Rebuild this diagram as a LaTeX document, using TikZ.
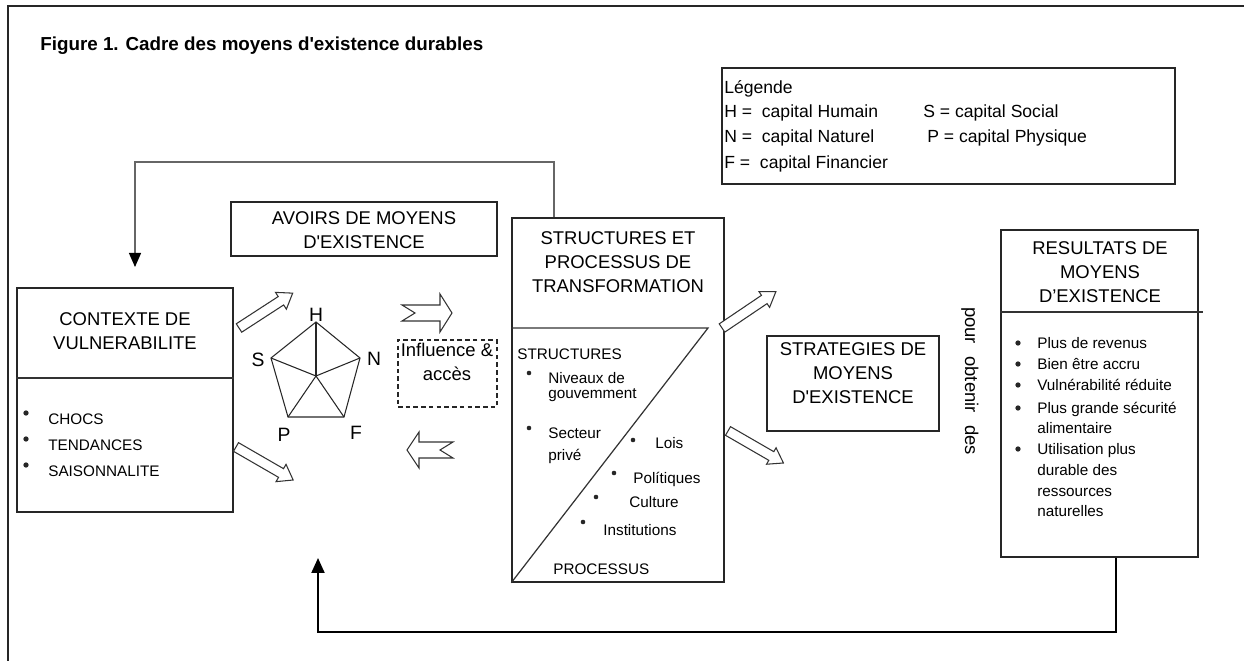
\documentclass[tikz,border=0pt]{standalone}
\usepackage{fontspec}
\setmainfont{Liberation Sans}
\usetikzlibrary{arrows.meta,fit}

\tikzset{
  box/.style={draw=black!85,line width=0.8pt,inner sep=0pt},
  rule/.style={draw=black!80,line width=0.7pt},
  heading/.style={font=\fontsize{10.5}{13.8}\selectfont,align=center},
  item/.style={font=\fontsize{8.7}{10}\selectfont,anchor=west,text height=6.2pt,text depth=0pt},
  legtext/.style={font=\fontsize{10}{12}\selectfont,anchor=west,text height=7.2pt,text depth=0pt},
  dot/.style={circle,fill=black!85,minimum size=3pt},
  hollow/.style={draw=black!80,line width=0.6pt,fill=white,line join=miter},
  capital/.style={font=\fontsize{11}{13}\selectfont}
}

\begin{document}
\begin{tikzpicture}[x=0.02cm,y=-0.02cm,every node/.style={inner sep=0pt}]
  \useasboundingbox (0,0) rectangle (1244,661);
  % frame and title
  \draw[line width=0.8pt,black!85] (8,661) -- (8,6) -- (1244,6);
  \node[font=\fontsize{10.7}{13}\selectfont\bfseries,anchor=west] (title) at (40,46)
    {Figure 1. Cadre des moyens d\textquotesingle existence durables};

  % legend
  \node[box,fit={(722,68) (1175,184)}] (leg) {};
  \node[legtext] (legT) at (724,87) {Légende};
  \foreach \y/\t [count=\i] in {111/{H =~ capital Humain},136/{N =~ capital Naturel},162/{F =~ capital Financier}}
    \node[legtext] (legL\i) at (724,\y) {\t};
  \node[legtext] (legS) at (923,111) {S = capital Social};
  \node[legtext] (legP) at (927,136) {P = capital Physique};

  % boxes
  \node[box,fit={(17,288) (233,512)}] (ctx) {};
  \node[box,fit={(231,202) (497,256)}] (avo) {};
  \node[box,dashed,dash pattern=on 2.6pt off 1.8pt,line width=0.6pt,fit={(398,340) (497,407)}] (infl) {};
  \node[box,fit={(512,218) (724,582)}] (stp) {};
  \node[box,fit={(767,336) (939,431)}] (str) {};
  \node[box,fit={(1001,230) (1198,557)}] (res) {};

  \node[heading] (ctxT) at (125,331) {CONTEXTE DE\\VULNERABILITE};
  \node[heading] (avoT) at (364,230) {AVOIRS DE MOYENS\\D\textquotesingle EXISTENCE};
  \node[heading] (inflT) at (447,362) {Influence \&\\accès};
  \node[heading] (stpT) at (618,262) {STRUCTURES ET\\PROCESSUS DE\\TRANSFORMATION};
  \node[heading] (strT) at (853,373) {STRATEGIES DE\\MOYENS\\D\textquotesingle EXISTENCE};
  \node[heading] (resT) at (1100,272) {RESULTATS DE\\MOYENS\\D'EXISTENCE};
  \node[heading,rotate=-90] (pour) at (970,381) {pour\hspace{7pt}obtenir\hspace{7pt}des};

  % dividers
  \coordinate (cdiv) at (0,378);
  \coordinate (sdiv) at (708,328);
  \coordinate (rdiv) at (1203,312);
  \draw[rule] (ctx.west |- cdiv) -- (ctx.east |- cdiv);
  \draw[rule] (stp.west |- sdiv) -- (sdiv) -- (stp.south west);
  \draw[rule] (res.west |- rdiv) -- (rdiv);

  % vulnerability list
  \foreach \y/\t [count=\i] in {419/CHOCS,445/TENDANCES,471/SAISONNALITE}{
    \node[dot] (ctxB\i) at (26,\y-6) {};
    \node[item] (ctxI\i) at (48,\y) {\t};
  }

  % structures and processes
  \node[item] (stS) at (517,354) {STRUCTURES};
  \foreach \bx/\by/\tx/\ty/\t [count=\i] in {529/373/548/378/Niveaux de,529/428/548/433/Secteur,
      633/440/655/443/Lois,614/473/633/478/Polítiques,596/497/629/502/Culture,583/522/603/530/Institutions}{
    \node[dot,minimum size=2.6pt] (stB\i) at (\bx,\by) {};
    \node[item] (stI\i) at (\tx,\ty) {\t};
  }
  \node[item] (stG) at (548,393) {gouvemment};
  \node[item] (stV) at (548,455) {privé};
  \node[item] (stP) at (553,569) {PROCESSUS};

  % outcomes
  \foreach \y/\t [count=\i] in {343/Plus de revenus,364/Bien être accru,385/Vulnérabilité réduite,
      408/Plus grande sécurité,449/Utilisation plus}{
    \node[dot] (resB\i) at (1018,\y) {};
    \node[item] (resI\i) at (1037,\y) {\t};
  }
  \foreach \y/\t [count=\i] in {428/alimentaire,470/durable des,491/ressources,511/naturelles}
    \node[item] (resC\i) at (1037,\y) {\t};

  % pentagon of assets
  \coordinate (vH) at (316,322);
  \coordinate (vN) at (360,358);
  \coordinate (vF) at (344,417);
  \coordinate (vP) at (288,417);
  \coordinate (vS) at (271,358);
  \coordinate (vC) at (316,376);
  \draw[black!85,line width=0.6pt] (vH) -- (vN) -- (vF) -- (vP) -- (vS) -- cycle;
  \foreach \v in {vH,vN,vF,vP,vS}
    \draw[black!85,line width=0.6pt] (vC) -- (\v);
  \node[capital] (lH) at (316,315) {H};
  \node[capital] (lS) at (258,360) {S};
  \node[capital] (lN) at (374,359) {N};
  \node[capital] (lP) at (284,435) {P};
  \node[capital] (lF) at (356,433) {F};

  % hollow arrows
  \foreach \x/\y/\a/\l/\s/\w/\h/\n in {239/328/33/64/5/10/14/0,236/447/-30/66/5/10/14/0,
      402/313/0/50/8/19/12/13,453/450/180/46/8/18/12/13,
      722/328/34/65/5/9.5/14/0,728/431/-30/64/5/9.5/14/0}
    \draw[hollow,shift={(\x,\y)},rotate=\a] (0,-\s) -- (\l-\h,-\s) -- (\l-\h,-\w) -- (\l,0)
      -- (\l-\h,\w) -- (\l-\h,\s) -- (0,\s) -- (\n,0) -- cycle;

  % feedback lines
  \coordinate (t1) at (554,162);
  \coordinate (t2) at (135,267);
  \draw[black!60,line width=0.7pt,-{Triangle[length=0.28cm,width=0.24cm,color=black]}]
    (stp.north -| t1) -- (t1) -| (t2);
  \coordinate (b1) at (1116,632);
  \coordinate (b2) at (318,558);
  \draw[black,line width=1.2pt,-{Triangle[length=0.3cm,width=0.26cm]}]
    (res.south -| b1) -- (b1) -| (b2);
\end{tikzpicture}
\end{document}
